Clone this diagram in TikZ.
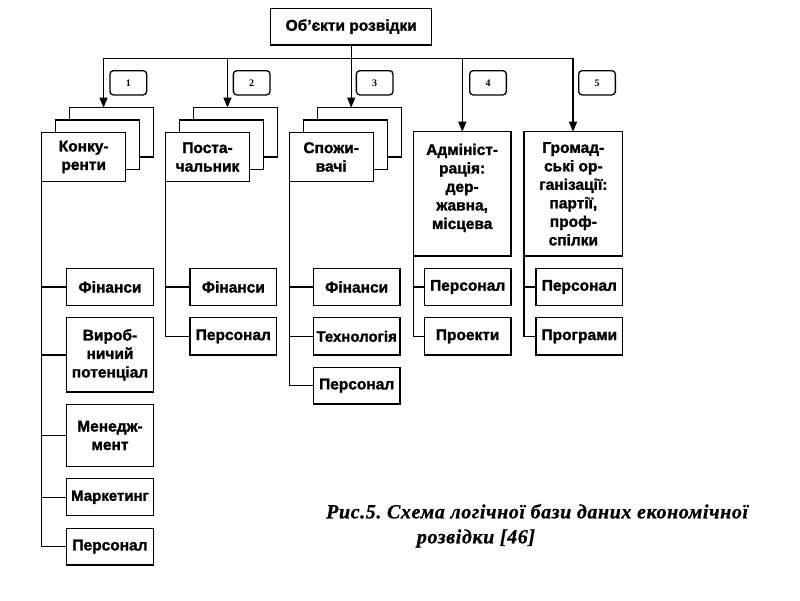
\documentclass[tikz,border=0pt]{standalone}
\usepackage{fontspec}
\setmainfont{Liberation Sans}
\newfontfamily\bsans{Liberation Sans Bold}[FakeBold=1.5]
\newfontfamily\bcap{Liberation Serif Bold Italic}[FakeBold=0.8,LetterSpace=3]
\newfontfamily\nserif{Liberation Serif Bold}
\usetikzlibrary{arrows.meta}
\newcommand\mybox[7][]{\node[boxst,#1,minimum width={(#4-#2)*1pt},minimum height={(#5-#3)*1pt}] (#6) at ({(#2+#4)/2},{(#3+#5)/2}) {#7};}
\begin{document}
\begin{tikzpicture}[x=1pt,y=-1pt,
  boxst/.style={draw,fill=white,line width=1.3pt,inner sep=0pt,outer sep=0pt,align=center,
    font=\bsans\fontsize{15.5}{18.5}\selectfont},
  narrow/.style={font=\bsans\fontsize{15}{18.5}\selectfont},
  numbox/.style={draw,line width=1.3pt,rounded corners=3.5pt,inner sep=0pt,
    minimum width=36.7pt,minimum height=24.3pt,font=\nserif\fontsize{10}{11}\selectfont},
  conn/.style={line width=1.3pt},
  arr/.style={line width=1.3pt,-{Triangle[length=10pt,width=8pt]}},
  captxt/.style={anchor=base west,inner sep=0pt,font=\bcap\fontsize{20}{22}\selectfont}]
\useasboundingbox (0,0) rectangle (800,600);
% top
\mybox{270.7}{8.3}{431.7}{45}{top}{Об’єкти розвідки}
\coordinate (b1) at (103.5,58.3);
\coordinate (b2) at (227.5,58.3);
\coordinate (b3) at (351.2,58.3);
\coordinate (b4) at (462.3,58.3);
\coordinate (b5) at (573,58.3);
\draw[conn] (top.south) -- (top.south |- b1);
\draw[conn] (b1) -- (b5);
% number boxes
\node[numbox] (n1) at (128.3,82.8) {1};
\node[numbox] (n2) at (251.7,82.8) {2};
\node[numbox] (n3) at (374.7,82.8) {3};
\node[numbox] (n4) at (488,82.8) {4};
\node[numbox] (n5) at (597,82.8) {5};
% group 1
\mybox{69.7}{107.6}{153.7}{157}{g1b}{}
\mybox{55.7}{120}{139.7}{169.4}{g1m}{}
\mybox{41.7}{132.3}{125.7}{181.7}{g1}{Конку-\\ренти}
% group 2
\mybox{193.5}{107.6}{277.5}{157}{g2b}{}
\mybox{179.5}{120}{263.5}{169.4}{g2m}{}
\mybox{165.5}{132.3}{249.5}{181.7}{g2}{Поста-\\чальник}
% group 3
\mybox{317.2}{107.6}{401.2}{157}{g3b}{}
\mybox{303.2}{120}{387.2}{169.4}{g3m}{}
\mybox{289.2}{132.3}{373.2}{181.7}{g3}{Спожи-\\вачі}
% group 4, 5
\mybox[text depth=15pt]{413.3}{131.7}{511}{256}{g4}{Адмініст-\\рація:\\дер-\\жавна,\\місцева}
\mybox{524}{131.7}{622.7}{256}{g5}{Громад-\\ські ор-\\ганізації:\\партії,\\проф-\\спілки}
% arrows
\draw[arr] (b1) -- (b1 |- g1b.north);
\draw[arr] (b2) -- (b2 |- g2b.north);
\draw[arr] (b3) -- (b3 |- g3b.north);
\draw[arr] (b4) -- (b4 |- g4.north);
\draw[arr] (b5) -- (b5 |- g5.north);
% children group 1
\mybox{66.7}{268.3}{153.3}{305.7}{c11}{Фінанси}
\mybox{66.7}{317.7}{153.3}{392}{c12}{Вироб-\\ничий\\потенціал}
\mybox{66.7}{404.3}{153.3}{466.7}{c13}{Менедж-\\мент}
\mybox[narrow]{66.7}{478.7}{153.3}{515.7}{c14}{Маркетинг}
\mybox{66.7}{528.3}{153.3}{565}{c15}{Персонал}
% children group 2
\mybox{190}{268.3}{276.7}{305.7}{c21}{Фінанси}
\mybox{190}{317.7}{276.7}{355}{c22}{Персонал}
% children group 3
\mybox{313.3}{268.3}{400}{305.7}{c31}{Фінанси}
\mybox[narrow]{313.3}{317.7}{400}{355}{c32}{Технологія}
\mybox{313.3}{367.3}{400}{404}{c33}{Персонал}
% children group 4
\mybox{424.3}{268.3}{511}{305.7}{c41}{Персонал}
\mybox{424.3}{317.7}{511}{355}{c42}{Проекти}
% children group 5
\mybox{536}{268.3}{622.7}{305.7}{c51}{Персонал}
\mybox{536}{317.7}{622.7}{355}{c52}{Програми}
% spines
\foreach \g/\c in {g1/c11,g1/c12,g1/c13,g1/c14,g1/c15,g2/c21,g2/c22,g3/c31,g3/c32,g3/c33,g4/c41,g4/c42,g5/c51,g5/c52}
  \draw[conn] (\g.south west) |- (\c.west);
% caption
\node[captxt] (cap1) at (326,518.3) {Рис.5.\ Схема логічної бази даних економічної};
\node[captxt] (cap2) at (416.7,543.3) {розвідки [46]};
\end{tikzpicture}
\end{document}
